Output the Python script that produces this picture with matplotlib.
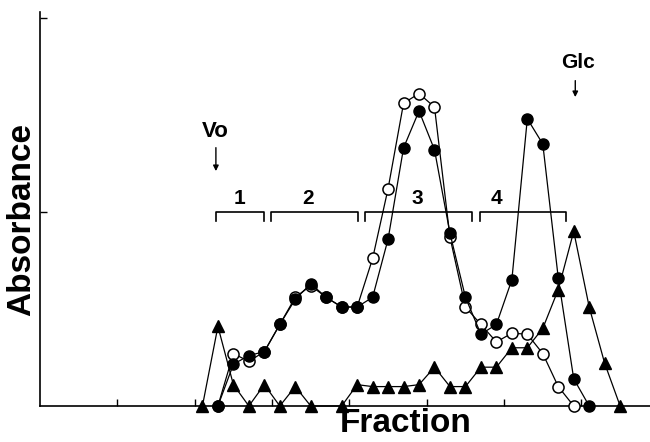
import matplotlib
matplotlib.use("Agg")
import matplotlib.pyplot as plt

# ---- data ----
frac_tri = [10.5, 11.5, 12.5, 13.5, 14.5, 15.5, 16.5, 17.5, 19.5, 20.5, 21.5, 22.5,
            23.5, 24.5, 25.5, 26.5, 27.5, 28.5, 29.5, 30.5, 31.5, 32.5, 33.5, 34.5,
            35.5, 36.5, 37.5]
tri_vals = [0, 0.41, 0.11, 0, 0.11, 0, 0.10, 0, 0, 0.11, 0.10, 0.10,
            0.10, 0.11, 0.20, 0.10, 0.10, 0.20, 0.20, 0.30, 0.30, 0.40, 0.60, 0.90,
            0.51, 0.22, 0]

frac_open = [11.5, 12.5, 13.5, 14.5, 15.5, 16.5, 17.5, 18.5, 19.5, 20.5, 21.5, 22.5,
             23.5, 24.5, 25.5, 26.5, 27.5, 28.5, 29.5, 30.5, 31.5, 32.5, 33.5, 34.5]
open_vals = [0, 0.27, 0.23, 0.28, 0.42, 0.56, 0.62, 0.56, 0.51, 0.51, 0.76, 1.12,
             1.56, 1.61, 1.54, 0.87, 0.51, 0.42, 0.33, 0.375, 0.37, 0.27, 0.10, 0]

frac_filled = [11.5, 12.5, 13.5, 14.5, 15.5, 16.5, 17.5, 18.5, 19.5, 20.5, 21.5, 22.5,
               23.5, 24.5, 25.5, 26.5, 27.5, 28.5, 29.5, 30.5, 31.5, 32.5, 33.5, 34.5,
               35.5]
filled_vals = [0, 0.215, 0.26, 0.28, 0.42, 0.55, 0.63, 0.56, 0.51, 0.51, 0.56, 0.86,
               1.33, 1.52, 1.32, 0.89, 0.56, 0.37, 0.42, 0.65, 1.48, 1.35, 0.66, 0.14,
               0]

bracket_labels = ["1", "2", "3", "4"]
bracket_starts = [11.4, 14.9, 21.0, 28.45]
bracket_ends = [14.45, 20.55, 27.95, 34.0]
bracket_label_x = [12.9, 17.3, 24.4, 29.5]

x_ticks = [5, 10, 15, 20, 25, 30, 35]
y_ticks = [1, 2]

FONT = ["Liberation Sans", "DejaVu Sans"]

fig = plt.figure(figsize=(6.5, 4.42), dpi=100)
ax = fig.add_axes([40 / 650, 1 - 406 / 442, 610 / 650, 394 / 442])
ax.set_xlim(0, 39.43)
ax.set_ylim(0, 2.03)

lw = 0.9
ax.plot(frac_tri, tri_vals, color="black", lw=lw, marker="^", ms=8,
        mfc="black", mec="black", zorder=3, clip_on=False)
ax.plot(frac_open, open_vals, color="black", lw=lw, marker="o", ms=8,
        mfc="white", mec="black", mew=1.1, zorder=4, clip_on=False)
ax.plot(frac_filled, filled_vals, color="black", lw=lw, marker="o", ms=8,
        mfc="black", mec="black", zorder=5, clip_on=False)

# brackets
for lab, s, e, lx in zip(bracket_labels, bracket_starts, bracket_ends, bracket_label_x):
    ax.plot([s, s, e, e], [0.955, 1.0, 1.0, 0.955], color="black", lw=1.2, zorder=2)
    ax.text(lx, 1.07, lab, ha="center", va="center", fontsize=15,
            fontweight="bold", family=FONT)

# Vo and Glc annotations
ax.annotate("", xy=(11.37, (406 - 174) / 194), xytext=(11.37, (406 - 145) / 194),
            arrowprops=dict(arrowstyle="-|>", color="black", lw=1.0,
                            mutation_scale=8))
ax.text(11.3, (406 - 131.5) / 194, "Vo", ha="center", va="center", fontsize=16,
        fontweight="bold", family=FONT)
ax.annotate("", xy=(34.6, (406 - 100) / 194), xytext=(34.6, (406 - 78) / 194),
            arrowprops=dict(arrowstyle="-|>", color="black", lw=1.0,
                            mutation_scale=8))
ax.text(34.8, (406 - 62.5) / 194, "Glc", ha="center", va="center", fontsize=15,
        fontweight="bold", family=FONT)

# axes styling
for side in ["top", "right"]:
    ax.spines[side].set_visible(False)
ax.spines["left"].set_linewidth(1.2)
ax.spines["bottom"].set_linewidth(1.2)
ax.set_xticks(x_ticks)
ax.set_yticks(y_ticks)
ax.tick_params(axis="both", direction="in", length=5, width=1.0,
               labelbottom=False, labelleft=False)

fig.text(406 / 650, 1 - 424 / 442, "Fraction", ha="center", va="center",
         fontsize=24, fontweight="bold", family=FONT)
fig.text(22 / 650, 1 - 220 / 442, "Absorbance", ha="center", va="center",
         rotation=90, fontsize=24, fontweight="bold", family=FONT)

fig.savefig("out.png", dpi=100)
